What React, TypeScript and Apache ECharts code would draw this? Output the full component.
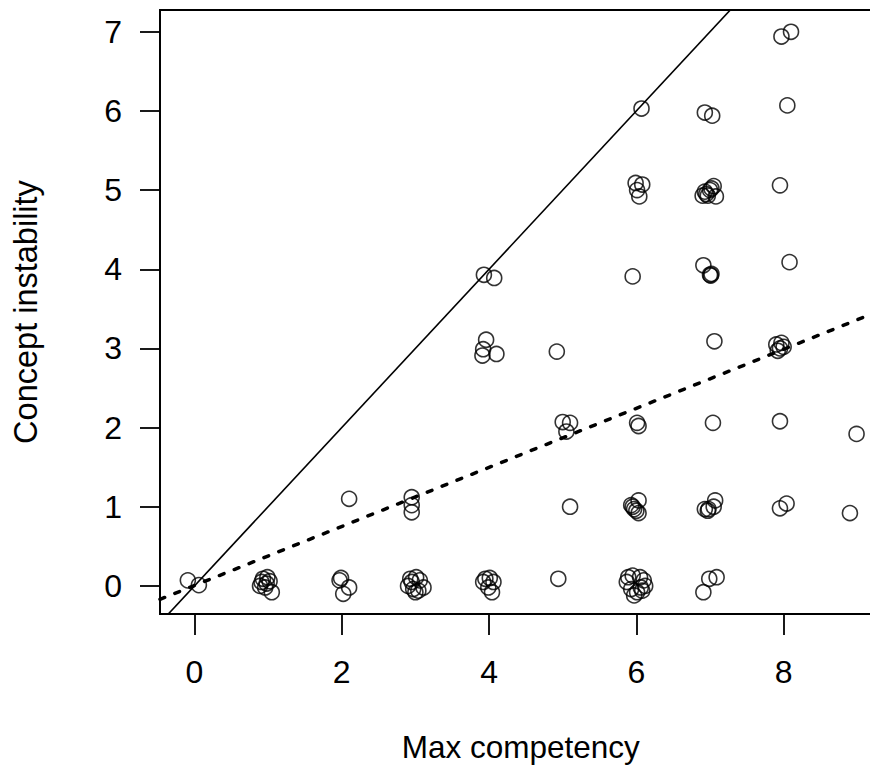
import React, { useEffect, useRef } from "react";
import * as echarts from "echarts";

// Max competency (x) and concept instability (y), jittered points
const competency = [
  -0.09, 0.06,
  0.93, 0.99, 0.89, 0.96, 1.05, 0.98, 0.91, 1.02,
  1.99, 2.1, 2.02, 1.97,
  2.93, 3.01, 3.06, 2.9, 2.97, 3.04, 3.11, 3.0, 2.95,
  3.95, 4.01, 4.06, 3.99, 4.04, 3.92,
  4.94,
  5.89, 5.95, 6.05, 6.1, 5.87, 5.93, 6.01, 6.08, 5.97, 6.06, 6.12,
  6.91, 6.99, 7.09,
  2.1, 2.95, 2.95, 2.95, 5.1,
  6.03, 5.95, 5.97, 6.0, 6.03, 5.93,
  6.93, 6.98, 7.05, 7.07, 6.97,
  7.95, 8.04, 8.9,
  5.0, 5.1, 5.05, 6.01, 6.03, 7.04, 7.95, 8.99,
  3.96, 3.92, 3.91, 4.1, 4.92, 7.06,
  7.9, 7.95, 7.97, 8.0, 7.92,
  3.93, 4.07, 5.95, 6.91, 7.0, 7.02, 7.01, 8.08,
  5.99, 6.08, 6.01, 6.04,
  6.9, 6.95, 6.93, 7.0, 7.05, 7.08, 6.97, 7.02, 7.95,
  6.07, 6.93, 7.03, 8.05,
  7.97, 8.1,
];
const instability = [
  0.07, 0.01,
  0.09, 0.11, 0.0, -0.02, -0.08, 0.03, 0.05, 0.06,
  0.1, -0.02, -0.1, 0.07,
  0.09, 0.11, 0.07, 0.0, -0.04, -0.06, -0.02, -0.08, 0.05,
  0.09, 0.1, 0.05, -0.02, -0.08, 0.05,
  0.09,
  0.11, 0.13, 0.11, 0.07, 0.05, -0.04, -0.08, -0.06, -0.12, -0.02, 0.0,
  -0.08, 0.09, 0.11,
  1.1, 1.12, 1.02, 0.93, 1.0,
  1.08, 1.0, 0.97, 0.95, 0.92, 1.02,
  0.97, 0.97, 1.0, 1.08, 0.95,
  0.98, 1.04, 0.92,
  2.07, 2.06, 1.95, 2.06, 2.02, 2.06, 2.08, 1.92,
  3.11, 2.99, 2.91, 2.93, 2.96, 3.09,
  3.05, 3.0, 3.07, 3.02, 2.97,
  3.93, 3.89, 3.91, 4.05, 3.93, 3.94, 3.92, 4.09,
  5.09, 5.07, 5.0, 4.92,
  4.93, 4.95, 4.98, 5.0, 5.05, 4.92, 4.93, 5.02, 5.06,
  6.03, 5.98, 5.94, 6.07,
  6.94, 7.0,
];

const xTicks = [0, 2, 4, 6, 8];
const yTicks = [0, 1, 2, 3, 4, 5, 6, 7];

// reference lines: identity (solid) and fitted line (dashed)
const identityLine = { intercept: 0, slope: 1 };
const fitLine = { intercept: 0.005, slope: 0.373 };

const X_MIN = -0.468;
const X_MAX = 9.33;
const Y_MIN = -0.355;
const Y_MAX = 7.275;

const FONT = "'Liberation Sans', Arial, Helvetica, sans-serif";

function lineData(l: { intercept: number; slope: number }) {
  return [
    [X_MIN, l.intercept + l.slope * X_MIN],
    [X_MAX, l.intercept + l.slope * X_MAX],
  ];
}

export default function App() {
  const ref = useRef<HTMLDivElement>(null);
  useEffect(() => {
    if (!ref.current) return;
    const chart = echarts.init(ref.current, null, { renderer: "svg" });
    const points = competency.map((x, i) => [x, instability[i]]);
    chart.setOption({
      animation: false,
      backgroundColor: "#fff",
      grid: {
        left: 160,
        top: 10,
        width: 721.6,
        height: 606,
        show: true,
        borderColor: "#000",
        borderWidth: 1.8,
        backgroundColor: "transparent",
      },
      xAxis: {
        type: "value",
        min: X_MIN,
        max: X_MAX,
        axisLine: { show: true, onZero: false, lineStyle: { color: "#000", width: 1.8 } },
        splitLine: { show: false },
        axisTick: {
          show: true,
          customValues: xTicks,
          length: 21,
          lineStyle: { color: "#000", width: 1.8 },
        },
        axisLabel: {
          customValues: xTicks,
          fontSize: 32,
          color: "#000",
          fontFamily: FONT,
          margin: 42,
        },
        name: "Max competency",
        nameLocation: "middle",
        nameGap: 117,
        nameTextStyle: { fontSize: 31.5, color: "#000", fontFamily: FONT },
      },
      yAxis: {
        type: "value",
        min: Y_MIN,
        max: Y_MAX,
        axisLine: { show: true, onZero: false, lineStyle: { color: "#000", width: 1.8 } },
        splitLine: { show: false },
        axisTick: {
          show: true,
          customValues: yTicks,
          length: 20,
          lineStyle: { color: "#000", width: 1.8 },
        },
        axisLabel: {
          customValues: yTicks,
          fontSize: 32,
          color: "#000",
          fontFamily: FONT,
          margin: 38,
        },
        name: "Concept instability",
        nameLocation: "middle",
        nameGap: 118,
        nameTextStyle: { fontSize: 32.5, color: "#000", fontFamily: FONT },
      },
      series: [
        {
          type: "line",
          data: lineData(identityLine),
          symbol: "none",
          clip: true,
          lineStyle: { color: "#000", width: 1.6 },
          z: 2,
        },
        {
          type: "line",
          data: lineData(fitLine),
          symbol: "none",
          clip: true,
          lineStyle: { color: "#000", width: 3.5, type: [5, 11], cap: "round" },
          z: 2,
        },
        {
          type: "scatter",
          data: points,
          symbol: "circle",
          symbolSize: 15,
          itemStyle: { color: "rgba(0,0,0,0)", borderColor: "#000", borderWidth: 1.6 },
          z: 3,
        },
      ],
    });
    return () => chart.dispose();
  }, []);
  return (
    <div
      style={{
        position: "fixed",
        left: 0,
        top: 0,
        width: 870,
        height: 768,
        overflow: "hidden",
        background: "#fff",
      }}
    >
      <div ref={ref} style={{ width: 890, height: 768 }} />
    </div>
  );
}
